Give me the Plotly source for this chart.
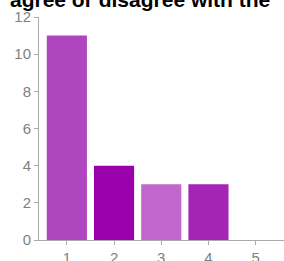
import plotly.graph_objects as go

categories = [1, 2, 3, 4, 5]
counts = [11, 4, 3, 3, 0]
bar_colors = ["#AE45BE", "#9A00AB", "#C166CC", "#A424B6", "#A424B6"]
y_ticks = [0, 2, 4, 6, 8, 10, 12]
title_text = "agree or disagree with the"

fig = go.Figure(go.Bar(
    x=categories, y=counts, width=0.85,
    marker=dict(color=bar_colors, line=dict(width=0)),
))
fig.update_layout(
    width=284, height=261,
    margin=dict(l=39, r=0, t=17, b=21, autoexpand=False),
    paper_bgcolor="white", plot_bgcolor="white",
    showlegend=False,
    font=dict(family="Liberation Sans, Arial, sans-serif"),
    annotations=[dict(
        text="<b>" + title_text + "</b>", xref="paper", yref="paper",
        x=-0.127, y=1.078, xanchor="left", yanchor="middle", showarrow=False,
        font=dict(size=21, color="black", family="Liberation Sans, Arial, sans-serif"),
    )],
)
fig.update_xaxes(
    range=[0.41, 5.6], tickvals=categories, showgrid=False, zeroline=False,
    showline=True, linecolor="#aaaaaa", linewidth=1, automargin=False,
    ticks="outside", ticklen=4, tickcolor="#aaaaaa",
    tickfont=dict(size=15, color="#808080"),
)
fig.update_yaxes(
    range=[0, 12], tickvals=y_ticks, showgrid=False, zeroline=False,
    showline=True, linecolor="#aaaaaa", linewidth=1, automargin=False,
    ticks="outside", ticklen=4, tickcolor="#aaaaaa",
    tickfont=dict(size=15, color="#808080"),
)
fig.write_html(
    "out.html",
    config={"displayModeBar": False},
    post_script="document.body.style.margin='0';document.body.style.overflow='hidden';",
)
